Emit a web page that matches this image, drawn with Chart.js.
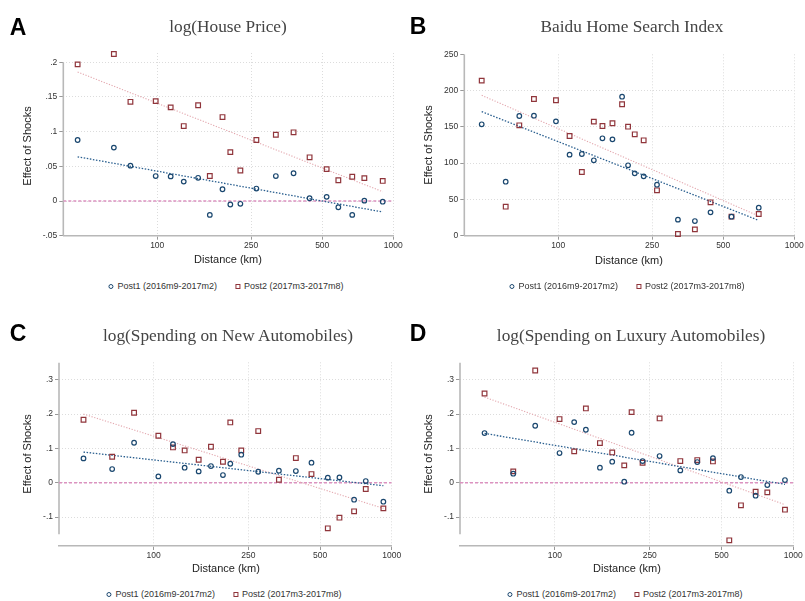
<!DOCTYPE html>
<html>
<head>
<meta charset="utf-8">
<script src="https://cdn.jsdelivr.net/npm/chart.js@4.4.1/dist/chart.umd.min.js"></script>
<style>
  body { margin: 0; background: #fff; width: 805px; height: 601px; position: relative; overflow: hidden; font-family: "Liberation Sans", Arial, sans-serif; }
  canvas { position: absolute; }
  .txt { position: absolute; white-space: nowrap; transform: translate(-50%, -50%); }
  .letter { font-weight: bold; font-size: 23px; color: #000; }
  .title { font-family: "Liberation Serif", serif; font-size: 17.3px; color: #444; }
  .xt { font-size: 11px; color: #222; }
  .yt { font-size: 11px; color: #222; transform: translate(-50%, -50%) rotate(-90deg); }
  .leg { font-size: 9px; color: #333; display: flex; align-items: center; }
  .mk { display: inline-block; box-sizing: border-box; margin-right: 4px; }
  .mk.c { width: 5px; height: 5px; border: 1.2px solid #1a476f; border-radius: 50%; }
  .mk.s { width: 5px; height: 5px; border: 1.2px solid #90353b; margin-left: 18px; }
</style>
</head>
<body>
<canvas id="cA" width="412" height="255" style="left:0;top:0"></canvas>
<canvas id="cB" width="409" height="255" style="left:396px;top:0"></canvas>
<canvas id="cC" width="412" height="265" style="left:0;top:300px"></canvas>
<canvas id="cD" width="409" height="265" style="left:396px;top:300px"></canvas>

<div class="txt letter" style="left:18px;top:27px">A</div>
<div class="txt letter" style="left:418px;top:26px">B</div>
<div class="txt letter" style="left:18px;top:333px">C</div>
<div class="txt letter" style="left:418px;top:333px">D</div>

<div class="txt title" style="left:228px;top:27px">log(House Price)</div>
<div class="txt title" style="left:632px;top:27px">Baidu Home Search Index</div>
<div class="txt title" style="left:228px;top:336px">log(Spending on New Automobiles)</div>
<div class="txt title" style="left:631px;top:336px">log(Spending on Luxury Automobiles)</div>

<div class="txt yt" style="left:27px;top:146px">Effect of Shocks</div>
<div class="txt yt" style="left:428px;top:145px">Effect of Shocks</div>
<div class="txt yt" style="left:27px;top:454px">Effect of Shocks</div>
<div class="txt yt" style="left:428px;top:454px">Effect of Shocks</div>

<div class="txt xt" style="left:228px;top:259px">Distance (km)</div>
<div class="txt xt" style="left:629px;top:260px">Distance (km)</div>
<div class="txt xt" style="left:226px;top:568px">Distance (km)</div>
<div class="txt xt" style="left:627px;top:568px">Distance (km)</div>

<div class="txt leg" style="left:226px;top:286px"><span class="mk c"></span>Post1 (2016m9-2017m2)<span class="mk s"></span>Post2 (2017m3-2017m8)</div>
<div class="txt leg" style="left:627px;top:286px"><span class="mk c"></span>Post1 (2016m9-2017m2)<span class="mk s"></span>Post2 (2017m3-2017m8)</div>
<div class="txt leg" style="left:224px;top:594px"><span class="mk c"></span>Post1 (2016m9-2017m2)<span class="mk s"></span>Post2 (2017m3-2017m8)</div>
<div class="txt leg" style="left:625px;top:594px"><span class="mk c"></span>Post1 (2016m9-2017m2)<span class="mk s"></span>Post2 (2017m3-2017m8)</div>

<script>
// ---- data ----
const xTicks = [100, 250, 500, 1000];

// A: log(House Price)
const distA  = [46, 65.5, 77, 98.5, 114, 129.5, 149, 167, 189, 204, 225, 263, 318, 378, 442, 522, 585, 670, 754, 902];
const post1A = [0.088, 0.077, 0.051, 0.036, 0.0355, 0.028, 0.0335, -0.020, 0.017, -0.005, -0.004, 0.018, 0.036, 0.040, 0.004, 0.006, -0.009, -0.020, 0.0005, -0.001];
const post2A = [0.197, 0.212, 0.143, 0.144, 0.135, 0.108, 0.138, 0.036, 0.121, 0.0705, 0.044, 0.088, 0.0955, 0.099, 0.063, 0.046, 0.030, 0.035, 0.033, 0.029];
const fit1A  = [0.0638, -0.0158];
const fit2A  = [0.186, 0.0134];
const yTicksA  = [-0.05, 0, 0.05, 0.1, 0.15, 0.2];
const yLabelsA = ['-.05', '0', '.05', '.1', '.15', '.2'];

// B: Baidu Home Search Index
const distB  = [47.4, 59.9, 68.4, 78.9, 97.8, 111.7, 125.9, 141.5, 153.9, 169.7, 186.4, 197.6, 210.9, 230.1, 262, 321.4, 379.2, 441.7, 541.9, 706.9];
const post1B = [153.5, 74.4, 165, 165.4, 157.6, 111.7, 112.6, 103.9, 134.2, 132.8, 191.6, 97, 85.9, 81.8, 70.3, 22.1, 20.2, 32.2, 26.2, 38.6];
const post2B = [213.7, 40, 152.1, 188.4, 186.6, 137.4, 87.8, 157.2, 151.2, 154.9, 181.1, 150.3, 139.7, 131.4, 62.5, 2.3, 8.7, 46, 26.2, 29.9];
const fit1B  = [171, 21.1];
const fit2B  = [193.5, 27.1];
const yTicksB  = [0, 50, 100, 150, 200, 250];
const yLabelsB = ['0', '50', '100', '150', '200', '250'];

// C and D share the distance bins
const distCD = [50.7, 66.9, 82.7, 104.6, 120.5, 134.9, 154.5, 174, 195.4, 209.8, 233.3, 274.9, 335.8, 395.6, 460.2, 538.9, 603.2, 695, 778, 922.6];
const post1C = [0.0709, 0.0398, 0.1165, 0.0184, 0.1126, 0.0437, 0.033, 0.0485, 0.0223, 0.0553, 0.0816, 0.032, 0.035, 0.034, 0.0583, 0.0146, 0.0155, -0.0495, 0.0049, -0.0553];
const post2C = [0.1835, 0.0757, 0.2039, 0.1369, 0.1029, 0.0942, 0.067, 0.1049, 0.0612, 0.1757, 0.0942, 0.1505, 0.0087, 0.0718, 0.0252, -0.133, -0.1019, -0.0835, -0.0184, -0.0748];
const fit1C  = [0.0893, -0.0087];
const fit2C  = [0.2, -0.0748];

const post1D = [0.1447, 0.0262, 0.166, 0.0864, 0.1767, 0.1544, 0.0437, 0.0612, 0.0029, 0.1456, 0.0631, 0.0777, 0.0359, 0.0602, 0.0718, -0.0233, 0.0165, -0.0379, -0.0068, 0.0078];
const post2D = [0.2602, 0.033, 0.3272, 0.1854, 0.0913, 0.2165, 0.1155, 0.0883, 0.0505, 0.2058, 0.0583, 0.1874, 0.0631, 0.066, 0.0621, -0.168, -0.066, -0.0262, -0.0282, -0.0786];
const fit1D  = [0.1437, -0.0049];
const fit2D  = [0.2495, -0.064];

const yTicksCD  = [-0.1, 0, 0.1, 0.2, 0.3];
const yLabelsCD = ['-.1', '0', '.1', '.2', '.3'];

const xMin = 40, xMax = 1000;

// ---- styling ----
const NAVY = '#1a476f';
const MAROON = '#90353b';
const GRID = '#dcdcdc';

Chart.defaults.font.family = '"Liberation Sans", Arial, sans-serif';
Chart.defaults.font.size = 8.5;
Chart.defaults.color = '#333';

// y axis line only over the labelled range (stata style)
const yAxisLine = {
  id: 'yAxisLine',
  beforeDatasetsDraw(chart, args, opts) {
    const ys = chart.scales.y;
    const x = chart.chartArea.left;
    const ctx = chart.ctx;
    ctx.save();
    ctx.strokeStyle = '#b8b8b8';
    ctx.lineWidth = 1.6;
    ctx.beginPath();
    ctx.moveTo(x, ys.getPixelForValue(opts.from));
    ctx.lineTo(x, ys.getPixelForValue(opts.to));
    ctx.stroke();
    ctx.restore();
  }
};

function pts(xs, ys) {
  return xs.map((x, i) => ({ x: x, y: ys[i] }));
}

function makePanel(id, p) {
  const ends = [p.dist[0], p.dist[p.dist.length - 1]];
  const datasets = [
    {
      data: pts(p.dist, p.post1), pointStyle: 'circle', pointRadius: 2.3,
      borderColor: NAVY, backgroundColor: 'rgba(0,0,0,0)', pointBorderWidth: 1.2, clip: false
    },
    {
      data: pts(p.dist, p.post2), pointStyle: 'rect', pointRadius: 3.3,
      borderColor: MAROON, backgroundColor: 'rgba(0,0,0,0)', pointBorderWidth: 1.2, clip: false
    },
    {
      data: pts(ends, p.fit1), showLine: true, pointRadius: 0,
      borderColor: '#2a5f8f', borderWidth: 1.3, borderDash: [1.5, 1.6]
    },
    {
      data: pts(ends, p.fit2), showLine: true, pointRadius: 0,
      borderColor: '#e3a7ae', borderWidth: 1.1, borderDash: [1.2, 1.6]
    }
  ];
  if (p.zero) {
    datasets.push({
      data: pts([xMin, xMax], [0, 0]), showLine: true, pointRadius: 0,
      borderColor: '#dc92c0', borderWidth: 1.5, borderDash: [3, 2]
    });
  }

  new Chart(document.getElementById(id), {
    type: 'scatter',
    data: { datasets: datasets },
    plugins: [yAxisLine],
    options: {
      responsive: false,
      animation: false,
      events: [],
      layout: { padding: { left: 0, top: p.top, right: p.right, bottom: 0 } },
      plugins: {
        legend: { display: false },
        tooltip: { enabled: false },
        yAxisLine: { from: p.lineFrom, to: p.lineTo }
      },
      scales: {
        x: {
          type: 'logarithmic', min: xMin, max: xMax,
          afterBuildTicks: s => { s.ticks = xTicks.map(v => ({ value: v })); },
          afterFit: s => { s.height = p.xH; s.paddingLeft = 0; s.paddingRight = 0; },
          ticks: { callback: v => String(v), padding: 1, maxRotation: 0, autoSkip: false },
          grid: { color: GRID, tickColor: '#999', tickLength: 4, lineWidth: 1 },
          border: { display: true, color: '#b8b8b8', width: 1.6, dash: [1, 2] }
        },
        y: {
          min: p.yMin, max: p.yMax,
          afterBuildTicks: s => { s.ticks = p.yTicks.map(v => ({ value: v })); },
          afterFit: s => { s.width = p.yW; s.paddingTop = 0; s.paddingBottom = 0; },
          ticks: { callback: (v, i) => p.yLabels[i], padding: 2, autoSkip: false },
          grid: {
            color: c => (c.tick && c.tick.value === p.noGrid) ? 'rgba(0,0,0,0)' : GRID,
            tickColor: '#999', tickLength: 4, lineWidth: 1
          },
          border: { display: false, dash: [1, 2] }
        }
      }
    }
  });
}

makePanel('cA', {
  dist: distA, post1: post1A, post2: post2A, fit1: fit1A, fit2: fit2A, zero: true,
  yTicks: yTicksA, yLabels: yLabelsA, yMin: -0.05, yMax: 0.2134, lineFrom: -0.05, lineTo: 0.2,
  top: 53, right: 18.7, yW: 63.3, xH: 19.3, noGrid: null
});
makePanel('cB', {
  dist: distB, post1: post1B, post2: post2B, fit1: fit1B, fit2: fit2B, zero: false,
  yTicks: yTicksB, yLabels: yLabelsB, yMin: 0, yMax: 250, lineFrom: 0, lineTo: 250,
  top: 54.3, right: 10.7, yW: 68.3, xH: 19.3, noGrid: 250
});
makePanel('cC', {
  dist: distCD, post1: post1C, post2: post2C, fit1: fit1C, fit2: fit2C, zero: true,
  yTicks: yTicksCD, yLabels: yLabelsCD, yMin: -0.1845, yMax: 0.351, lineFrom: -0.15, lineTo: 0.35,
  top: 62.3, right: 20.3, yW: 59, xH: 19, noGrid: null
});
makePanel('cD', {
  dist: distCD, post1: post1D, post2: post2D, fit1: fit1D, fit2: fit2D, zero: true,
  yTicks: yTicksCD, yLabels: yLabelsCD, yMin: -0.1845, yMax: 0.351, lineFrom: -0.15, lineTo: 0.35,
  top: 62.3, right: 11.7, yW: 64, xH: 19, noGrid: null
});
</script>
</body>
</html>
